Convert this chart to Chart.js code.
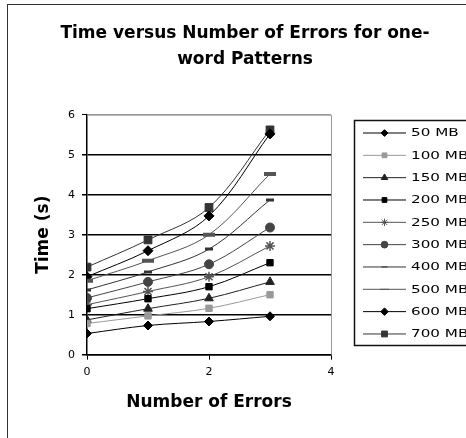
<!DOCTYPE html>
<html>
<head>
<meta charset="utf-8">
<script src="https://cdn.jsdelivr.net/npm/chart.js@4/dist/chart.umd.min.js"></script>
<style>
  html, body { margin: 0; padding: 0; background: #fff; overflow: hidden; }
  canvas { display: block; }
</style>
</head>
<body>
<canvas id="chart" width="490" height="438"></canvas>
<script>
// number of errors on the x axis
const errors = [0, 1, 2, 3];
const sizes = ['50 MB', '100 MB', '150 MB', '200 MB', '250 MB', '300 MB', '400 MB', '500 MB', '600 MB', '700 MB'];

// search time in seconds, one array per file size
const t50  = [0.53, 0.73, 0.83, 0.96];
const t100 = [0.78, 0.97, 1.16, 1.50];
const t150 = [0.87, 1.15, 1.41, 1.82];
const t200 = [1.15, 1.40, 1.70, 2.30];
const t250 = [1.25, 1.58, 1.95, 2.72];
const t300 = [1.42, 1.82, 2.26, 3.18];
const t400 = [1.62, 2.07, 2.64, 3.87];
const t500 = [1.85, 2.35, 3.00, 4.52];
const t600 = [1.95, 2.60, 3.47, 5.52];
const t700 = [2.19, 2.87, 3.68, 5.62];

const yTicks = [0, 1, 2, 3, 4, 5, 6];
const xTicks = [0, 2, 4];

const series = [t50, t100, t150, t200, t250, t300, t400, t500, t600, t700];

// marker look for each series
const looks = [
  { color: '#000', style: 'rectRot', r: 4.5, bw: 1 },
  { color: '#999', style: 'rect', r: 4.5, bw: 1 },
  { color: '#222', style: 'triangle', r: 5, bw: 1 },
  { color: '#000', style: 'rect', r: 4.5, bw: 1 },
  { color: '#555', style: 'star', r: 5, bw: 1.5 },
  { color: '#444', style: 'circle', r: 4.5, bw: 1 },
  { color: '#333', style: 'line', r: 4, bw: 3 },
  { color: '#555', style: 'line', r: 6, bw: 4 },
  { color: '#000', style: 'rectRot', r: 5, bw: 1 },
  { color: '#333', style: 'rect', r: 5.5, bw: 1 }
];

const datasets = series.map((vals, i) => ({
  label: sizes[i],
  data: errors.map((e, j) => ({ x: e, y: vals[j] })),
  borderColor: looks[i].color,
  backgroundColor: looks[i].color,
  borderWidth: 1,
  pointStyle: looks[i].style,
  pointRadius: looks[i].r,
  pointBorderWidth: looks[i].bw,
  pointBackgroundColor: looks[i].color,
  pointBorderColor: looks[i].color,
  tension: 0.35
}));

// outer frame, plot frame and the boxed legend on the right
const framePlugin = {
  id: 'frame',
  beforeDatasetsDraw(chart) {
    const { ctx, chartArea: a } = chart;
    ctx.save();
    ctx.strokeStyle = '#999';
    ctx.lineWidth = 1;
    ctx.beginPath();
    ctx.moveTo(a.left, a.top + 0.5);
    ctx.lineTo(a.right + 0.5, a.top + 0.5);
    ctx.lineTo(a.right + 0.5, a.bottom);
    ctx.stroke();
    ctx.restore();
  },
  afterDraw(chart) {
    const ctx = chart.ctx;
    ctx.save();
    ctx.strokeStyle = '#333';
    ctx.lineWidth = 1;
    ctx.strokeRect(7.5, 4.5, 476, 450);

    // legend
    ctx.strokeStyle = '#111';
    ctx.lineWidth = 1.5;
    ctx.strokeRect(354.5, 120.5, 124, 225);
    chart.data.datasets.forEach((ds, i) => {
      const y = 133 + i * 22.33;
      ctx.strokeStyle = ds.borderColor;
      ctx.fillStyle = ds.borderColor;
      ctx.lineWidth = 1;
      ctx.beginPath();
      ctx.moveTo(363, y);
      ctx.lineTo(406, y);
      ctx.stroke();
      Chart.helpers.drawPoint(ctx, {
        pointStyle: ds.pointStyle,
        radius: ds.pointRadius * 0.75,
        borderWidth: ds.pointBorderWidth,
        rotation: 0
      }, 384.5, y);
      ctx.save();
      ctx.fillStyle = '#000';
      ctx.font = '11px "DejaVu Sans"';
      ctx.textBaseline = 'middle';
      ctx.translate(411, y + 0.5);
      ctx.scale(1.38, 1);
      ctx.fillText(ds.label, 0, 0);
      ctx.restore();
    });
    ctx.restore();
  }
};

new Chart(document.getElementById('chart'), {
  type: 'line',
  data: { datasets: datasets },
  options: {
    responsive: false,
    animation: false,
    layout: { padding: 0 },
    plugins: {
      legend: { display: false },
      tooltip: { enabled: false },
      title: {
        display: true,
        text: ['Time versus Number of Errors for one-', 'word Patterns'],
        color: '#000',
        font: { family: 'DejaVu Sans', size: 17, weight: 'bold', lineHeight: 1.55 },
        padding: { top: 20, bottom: 42 }
      }
    },
    scales: {
      x: {
        type: 'linear',
        min: 0,
        max: 4,
        afterBuildTicks: s => { s.ticks = xTicks.map(v => ({ value: v })); },
        afterFit: s => { s.height = 83.3; },
        ticks: { color: '#000', padding: 6, font: { family: 'DejaVu Sans', size: 11 } },
        grid: { drawOnChartArea: false, color: '#000', tickLength: 5 },
        border: { color: '#000', width: 1.5 },
        title: {
          display: true,
          text: 'Number of Errors',
          color: '#000',
          font: { family: 'DejaVu Sans', size: 17, weight: 'bold' },
          padding: { top: 0, bottom: 25 }
        }
      },
      y: {
        min: 0,
        max: 6,
        afterBuildTicks: s => { s.ticks = yTicks.map(v => ({ value: v })); },
        afterFit: s => { s.width = 87; },
        ticks: { color: '#000', padding: 7, font: { family: 'DejaVu Sans', size: 11 } },
        grid: {
          color: c => (c.tick && c.tick.value === 6 ? '#999' : '#000'),
          tickColor: '#000',
          tickLength: 5,
          lineWidth: c => (c.tick && c.tick.value === 6 ? 1 : 1.5)
        },
        border: { color: '#000', width: 1.5 },
        title: {
          display: true,
          text: 'Time (s)',
          color: '#000',
          font: { family: 'DejaVu Sans', size: 17, weight: 'bold' },
          padding: { top: 33, bottom: 0 }
        }
      },
      // empty right-hand box that keeps room for the legend
      side: {
        position: 'right',
        afterFit: s => { s.width = 159; },
        ticks: { display: false },
        grid: { display: false },
        border: { display: false }
      }
    }
  },
  plugins: [framePlugin]
});
</script>
</body>
</html>
